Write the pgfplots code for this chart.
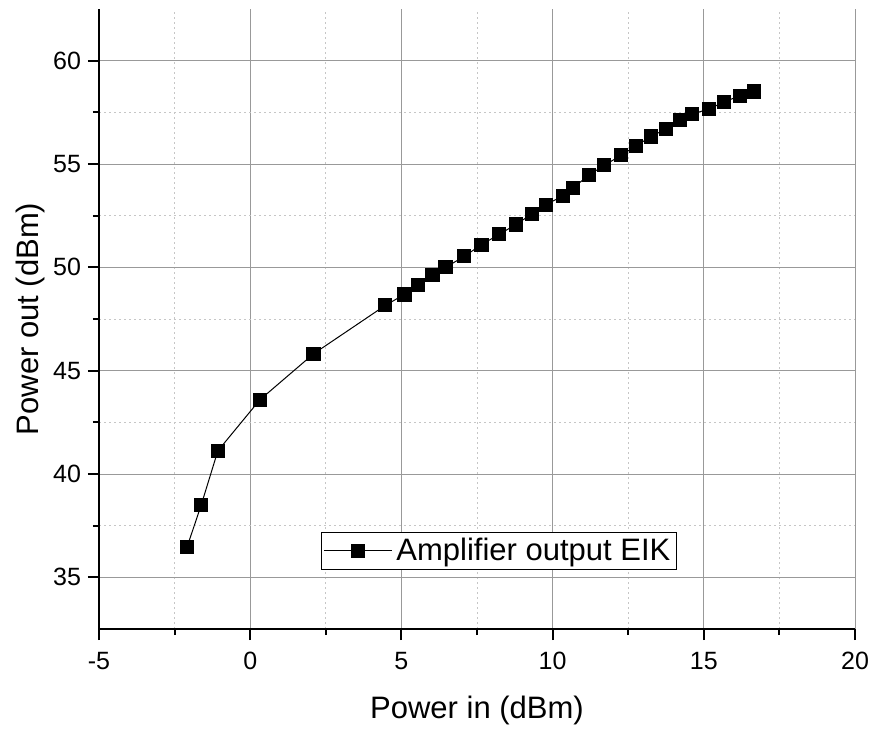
\documentclass[border=0pt]{standalone}
\usepackage{fontspec}
\setmainfont{Liberation Sans}
\usepackage{pgfplots}
\pgfplotsset{compat=1.18}
\begin{document}
\begin{tikzpicture}
\path[use as bounding box] (-49.5pt,-49.5pt) rectangle (386pt,314.5pt);
\begin{axis}[
  at={(0,0)}, anchor=south west,
  scale only axis, width=378pt, height=310pt,
  xmin=-5, xmax=20, ymin=32.5, ymax=62.5,
  axis x line=bottom, axis y line=left,
  axis line style={line width=1pt, -},
  xtick={-5,0,...,20}, xticklabels={-5,0,5,10,15,20},
  ytick={35,40,...,60}, yticklabels={35,40,45,50,55,60},
  minor x tick num=1, minor y tick num=1,
  tick align=outside, major tick length=5.5pt, minor tick length=3pt,
  tick style={black, line width=1pt},
  grid=both,
  major grid style={gray!80, line width=0.5pt},
  minor grid style={gray!45, line width=0.5pt, dash pattern=on 1pt off 1.5pt},
  ticklabel style={font=\fontsize{12.5}{15}\selectfont},
  xticklabel style={yshift=-2.5pt},
  label style={font=\fontsize{15.5}{18}\selectfont},
  xlabel={Power in (dBm)}, ylabel={Power out (dBm)},
  xlabel style={at={(axis description cs:0.5,-0.144)}, anchor=base},
  ylabel style={at={(axis description cs:-0.0913,0.5)}, anchor=center},
  legend style={at={(axis description cs:0.529,0.126)}, anchor=center,
    draw=black, line width=0.5pt, inner sep=1pt,
    font=\fontsize{15.5}{18}\selectfont},
  legend cell align=left,
  legend image code/.code={\draw[mark repeat=2,mark phase=2] plot coordinates {(0pt,0pt) (17pt,0pt) (34pt,0pt)};},
]
\addplot[black, line width=0.5pt, mark=square*, mark size=3.3pt, mark options={solid, fill=black}] coordinates {
  (-2.09,36.46) (-1.62,38.50) (-1.07,41.12) (0.32,43.59) (2.09,45.81)
  (4.47,48.16) (5.10,48.69) (5.56,49.14) (6.03,49.61) (6.46,50.00)
  (7.08,50.53) (7.65,51.10) (8.24,51.60) (8.78,52.07) (9.31,52.57)
  (9.77,53.03) (10.35,53.46) (10.68,53.85) (11.21,54.47) (11.71,54.94)
  (12.27,55.42) (12.77,55.89) (13.26,56.33) (13.75,56.70) (14.21,57.14)
  (14.60,57.41) (15.17,57.66) (15.68,58.01) (16.19,58.30) (16.65,58.51)
};
\addlegendentry{Amplifier output EIK}
\end{axis}
\end{tikzpicture}
\end{document}
